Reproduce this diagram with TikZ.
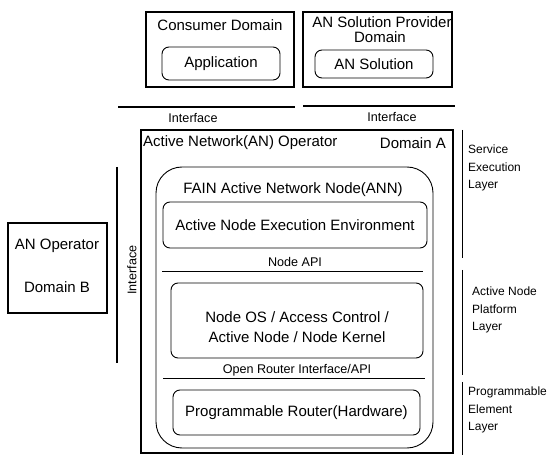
\documentclass[tikz,border=0pt]{standalone}
\usepackage{fontspec}
\setmainfont{Liberation Sans}
\usetikzlibrary{positioning}
\begin{document}
\begin{tikzpicture}[x=1pt,y=-1pt,
  outerbox/.style={draw, line width=1.3pt, inner sep=0pt},
  roundbox/.style={draw, line width=0.9pt, rounded corners=7pt, inner sep=0pt},
  bigtext/.style={font=\fontsize{15}{17}\selectfont, inner sep=0pt},
  midtext/.style={font=\fontsize{12.6}{14}\selectfont, inner sep=0pt},
  smalltext/.style={font=\fontsize{12}{17.5}\selectfont, inner sep=0pt, align=left, anchor=north west},
  sepline/.style={line width=1.4pt},
  thinsep/.style={line width=1pt}]
\useasboundingbox (0,0) rectangle (555,457);

% upper domains
\node[outerbox, minimum width=148pt, minimum height=75pt] (consumer) at (220,49.5) {};
\node[bigtext] (consumerT) at (220,25) {Consumer Domain};
\node[roundbox, minimum width=118pt, minimum height=33pt, bigtext] (app) at (221,63.5) {Application};

\node[outerbox, minimum width=149pt, minimum height=75pt] (provider) at (377.5,49.5) {};
\node[bigtext] (providerT1) at (382,22) {AN Solution Provider};
\node[bigtext] (providerT2) at (380,37) {Domain};
\node[roundbox, minimum width=118pt, minimum height=28pt, bigtext] (ansol) at (374,64) {AN Solution};

% interfaces towards the upper domains
\coordinate (ifL1) at (118,107); \coordinate (ifL2) at (295,107);
\coordinate (ifR1) at (303,106); \coordinate (ifR2) at (455,106);
\draw[sepline] (ifL1) -- (ifL2);
\draw[sepline] (ifR1) -- (ifR2);
\node[midtext] (ifLT) at (193,118) {Interface};
\node[midtext] (ifRT) at (392,117) {Interface};

% domain A
\node[outerbox, minimum width=312pt, minimum height=323pt] (domA) at (297,291.5) {};
\node[bigtext, anchor=west] (opT) at (143,143) {Active Network(AN) Operator};
\node[bigtext, anchor=east] (domAT) at (446,143) {Domain A};

% FAIN active network node
\node[draw, line width=0.9pt, rounded corners=26pt, minimum width=277pt, minimum height=281pt] (fain) at (294.5,307.5) {};
\node[bigtext] (fainT) at (293,190) {FAIN Active Network Node(ANN)};
\node[roundbox, minimum width=264pt, minimum height=46pt, bigtext] (exec) at (295,225) {Active Node Execution Environment};
\node[midtext] (napi) at (295,262) {Node API};
\coordinate (napiL) at (162,272); \coordinate (napiR) at (423,272);
\draw[thinsep] (napiL) -- (napiR);
\node[roundbox, minimum width=252pt, minimum height=75pt] (nodeos) at (297,320.5) {};
\node[bigtext, align=center, font=\fontsize{15}{20}\selectfont] (nodeosT) at (297,327) {Node OS / Access Control /\\Active Node / Node Kernel};
\node[midtext] (ori) at (297,370) {Open Router Interface/API};
\coordinate (oriL) at (163,379); \coordinate (oriR) at (425,379);
\draw[thinsep] (oriL) -- (oriR);
\node[roundbox, minimum width=247pt, minimum height=45pt, bigtext] (router) at (296.5,412.5) {Programmable Router(Hardware)};

% domain B
\node[outerbox, minimum width=99pt, minimum height=90pt] (domB) at (57.5,268) {};
\node[bigtext] (domBT1) at (57,246) {AN Operator};
\node[bigtext] (domBT2) at (57,287) {Domain B};
\coordinate (ifB1) at (117,167); \coordinate (ifB2) at (117,363);
\draw[sepline] (ifB1) -- (ifB2);
\node[midtext, rotate=90] (ifBT) at (132,270) {Interface};

% layer brackets
\coordinate (s1) at (462,130); \coordinate (s2) at (462,258);
\coordinate (p1) at (462,270); \coordinate (p2) at (462,375);
\coordinate (e1) at (462,382); \coordinate (e2) at (462,455);
\draw[thinsep] (s1) -- (s2);
\draw[thinsep] (p1) -- (p2);
\draw[thinsep] (e1) -- (e2);
\node[smalltext] (svcT) at (468,145) {Service\\Execution\\Layer};
\node[smalltext] (platT) at (472,287) {Active Node\\Platform\\Layer};
\node[smalltext] (elemT) at (468,387) {Programmable\\Element\\Layer};
\end{tikzpicture}
\end{document}
